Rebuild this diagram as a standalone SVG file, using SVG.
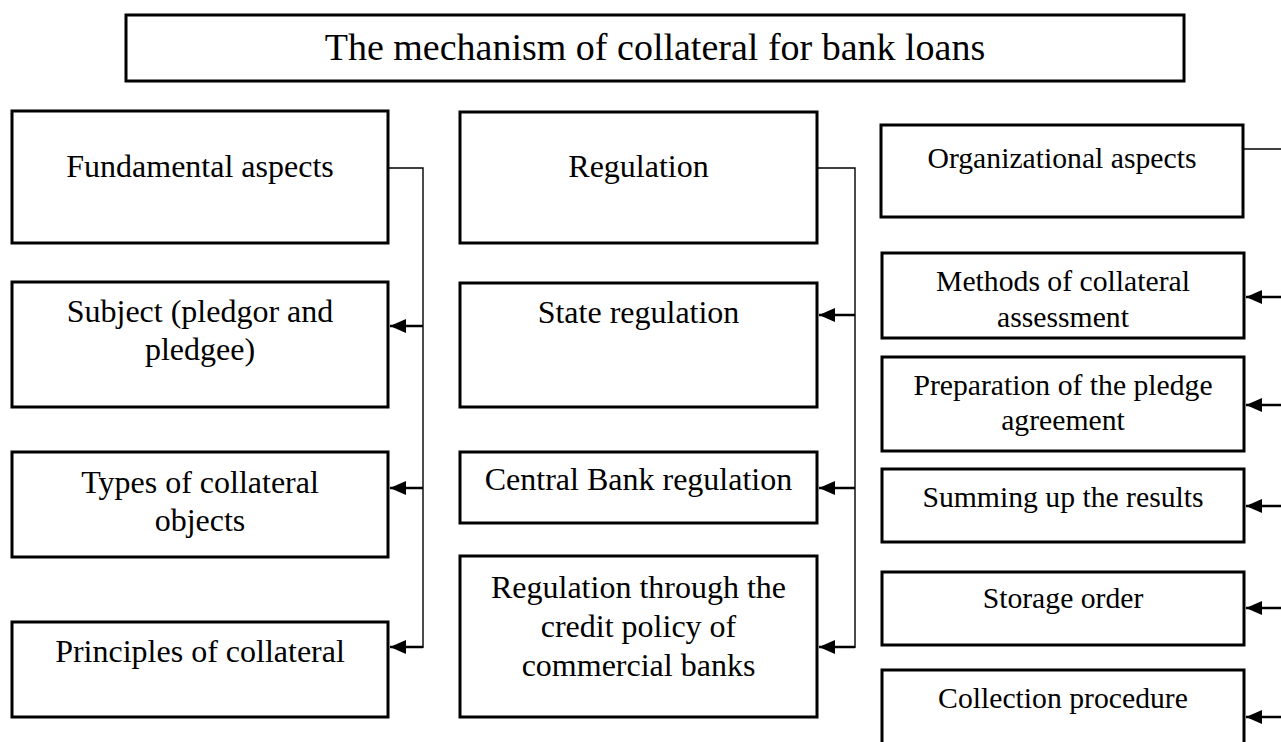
<svg xmlns="http://www.w3.org/2000/svg" width="1281" height="742" viewBox="0 0 1281 742">
  <style>
    .box { fill: #ffffff; stroke: #000000; stroke-width: 3; }
    .lbl { font-family: "Liberation Serif", "Times New Roman", serif; fill: #000000; text-anchor: middle; }
    .l32 { font-size: 32px; }
    .l30 { font-size: 29.7px; }
    .title { font-size: 38px; }
    .trunk { fill: none; stroke: #000000; stroke-width: 1.4; }
    .shaft { fill: none; stroke: #000000; stroke-width: 2.4; marker-end: url(#arrow); }
  </style>
  <defs>
    <marker id="arrow" markerUnits="userSpaceOnUse" markerWidth="18" markerHeight="16" refX="16" refY="8" orient="auto">
      <path d="M0,1 L16,8 L0,15 Z" fill="#000000"/>
    </marker>
  </defs>
  <rect width="1281" height="742" fill="#ffffff"/>

  <!-- header -->
  <g id="title">
    <rect class="box" x="126" y="15" width="1058" height="66"/>
    <text class="lbl title" x="655" y="60">The mechanism of collateral for bank loans</text>
  </g>

  <!-- left column -->
  <g id="fundamental">
    <rect class="box" x="12" y="111" width="376" height="132"/>
    <text class="lbl l32" x="200" y="177">Fundamental aspects</text>
  </g>
  <g id="subject">
    <rect class="box" x="12" y="282" width="376" height="125"/>
    <text class="lbl l32" x="200" y="322">Subject (pledgor and</text>
    <text class="lbl l32" x="200" y="360">pledgee)</text>
  </g>
  <g id="types">
    <rect class="box" x="12" y="452" width="376" height="105"/>
    <text class="lbl l32" x="200" y="493">Types of collateral</text>
    <text class="lbl l32" x="200" y="531">objects</text>
  </g>
  <g id="principles">
    <rect class="box" x="12" y="622" width="376" height="95"/>
    <text class="lbl l32" x="200" y="662">Principles of collateral</text>
  </g>

  <!-- middle column -->
  <g id="regulation">
    <rect class="box" x="460" y="112" width="357" height="131"/>
    <text class="lbl l32" x="638.5" y="177">Regulation</text>
  </g>
  <g id="state">
    <rect class="box" x="460" y="283" width="357" height="124"/>
    <text class="lbl l32" x="638.5" y="323">State regulation</text>
  </g>
  <g id="central-bank">
    <rect class="box" x="460" y="452" width="357" height="71"/>
    <text class="lbl l32" x="638.5" y="490">Central Bank regulation</text>
  </g>
  <g id="credit-policy">
    <rect class="box" x="460" y="556" width="357" height="161"/>
    <text class="lbl l32" x="638.5" y="598">Regulation through the</text>
    <text class="lbl l32" x="638.5" y="637">credit policy of</text>
    <text class="lbl l32" x="638.5" y="676">commercial banks</text>
  </g>

  <!-- right column -->
  <g id="organizational">
    <rect class="box" x="881" y="125" width="362" height="92"/>
    <text class="lbl l30" x="1062" y="168">Organizational aspects</text>
  </g>
  <g id="methods">
    <rect class="box" x="882" y="253" width="362" height="85"/>
    <text class="lbl l30" x="1063" y="291">Methods of collateral</text>
    <text class="lbl l30" x="1063" y="327">assessment</text>
  </g>
  <g id="agreement">
    <rect class="box" x="882" y="357" width="362" height="94"/>
    <text class="lbl l30" x="1063" y="395">Preparation of the pledge</text>
    <text class="lbl l30" x="1063" y="430">agreement</text>
  </g>
  <g id="summing">
    <rect class="box" x="882" y="469" width="362" height="73"/>
    <text class="lbl l30" x="1063" y="507">Summing up the results</text>
  </g>
  <g id="storage">
    <rect class="box" x="882" y="572" width="362" height="73"/>
    <text class="lbl l30" x="1063" y="608">Storage order</text>
  </g>
  <g id="collection">
    <rect class="box" x="882" y="670" width="362" height="90"/>
    <text class="lbl l30" x="1063" y="708">Collection procedure</text>
  </g>

  <!-- connectors -->
  <g id="connectors">
    <!-- fundamental aspects branch -->
    <path class="trunk" d="M388,168 H423 V648"/>
    <path class="shaft" d="M423,326 H390"/>
    <path class="shaft" d="M423,488 H390"/>
    <path class="shaft" d="M423,647 H390"/>
    <!-- regulation branch -->
    <path class="trunk" d="M817,168 H855 V648"/>
    <path class="shaft" d="M855,315 H819"/>
    <path class="shaft" d="M855,488 H819"/>
    <path class="shaft" d="M855,647 H819"/>
    <!-- organizational aspects branch -->
    <path class="trunk" d="M1243,149 H1281"/>
    <path class="shaft" d="M1281,297 H1246"/>
    <path class="shaft" d="M1281,405 H1246"/>
    <path class="shaft" d="M1281,506 H1246"/>
    <path class="shaft" d="M1281,608 H1246"/>
    <path class="shaft" d="M1281,717 H1246"/>
  </g>
</svg>
